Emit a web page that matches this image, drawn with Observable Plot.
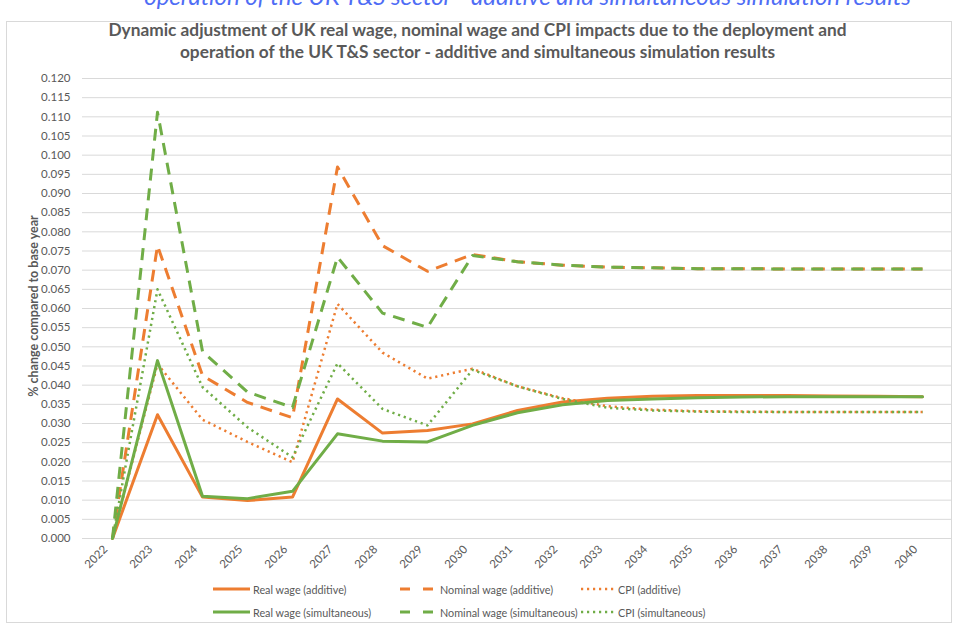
<!DOCTYPE html>
<html>
<head>
<meta charset="utf-8">
<script src="https://cdn.jsdelivr.net/npm/d3@7"></script>
<script src="https://cdn.jsdelivr.net/npm/@observablehq/plot@0.6"></script>
<style>
  body { margin: 0; background: #fff; }
  #wrap { position: relative; width: 955px; height: 626px; overflow: hidden; font-family: Lato, "Open Sans", sans-serif; color: #595959; }
  #cut { position: absolute; left: 0; top: 0; width: 955px; height: 10px; overflow: hidden; }
  #cut div { position: absolute; left: 0; width: 1055px; top: -19px; text-align: center; font-style: italic; font-size: 24px; line-height: 29px; color: #4f6df5; white-space: nowrap; }
  #frame { position: absolute; left: 6px; top: 21px; width: 946px; height: 602px; border: 1px solid #d9d9d9; box-sizing: border-box; }
  #title { position: absolute; left: 0; top: 19px; width: 955px; text-align: center; font-size: 17.3px; font-weight: 700; line-height: 22px; color: #595959; }
  #ylab { position: absolute; left: 33px; top: 306px; transform: translate(-50%, -50%) rotate(-90deg); font-size: 12.5px; font-weight: 700; white-space: nowrap; color: #595959; }
  #chart { position: absolute; left: 0; top: 60px; }
  .leg { position: absolute; display: flex; align-items: center; font-size: 10.8px; color: #595959; white-space: nowrap; }
  .leg svg { margin-right: 3px; }
</style>
</head>
<body>
<div id="wrap">
  <div id="cut"><div>operation of the UK T&amp;S sector - additive and simultaneous simulation results</div></div>
  <div id="frame"></div>
  <div id="title">Dynamic adjustment of UK real wage, nominal wage and CPI impacts due to the deployment and<br>operation of the UK T&amp;S sector - additive and simultaneous simulation results</div>
  <div id="ylab">% change compared to base year</div>
  <div id="chart"></div>
  <div id="legend"></div>
</div>
<script>
const years = ["2022","2023","2024","2025","2026","2027","2028","2029","2030","2031","2032","2033","2034","2035","2036","2037","2038","2039","2040"];
const yTicks = [0.000,0.005,0.010,0.015,0.020,0.025,0.030,0.035,0.040,0.045,0.050,0.055,0.060,0.065,0.070,0.075,0.080,0.085,0.090,0.095,0.100,0.105,0.110,0.115,0.120];

const realAdditive    = [0, 0.0323, 0.0108, 0.0099, 0.0108, 0.0364, 0.0275, 0.0282, 0.0299, 0.0334, 0.0356, 0.0366, 0.0371, 0.0373, 0.0373, 0.0373, 0.0372, 0.0371, 0.0370];
const nominalAdditive = [0, 0.0764, 0.0425, 0.0355, 0.0315, 0.0969, 0.0764, 0.0697, 0.0741, 0.0722, 0.0713, 0.0708, 0.0706, 0.0704, 0.0704, 0.0703, 0.0703, 0.0703, 0.0703];
const cpiAdditive     = [0, 0.0455, 0.0310, 0.0252, 0.0199, 0.0612, 0.0485, 0.0417, 0.0443, 0.0397, 0.0366, 0.0345, 0.0336, 0.0332, 0.0331, 0.0330, 0.0330, 0.0330, 0.0330];
const realSimult      = [0, 0.0464, 0.0110, 0.0104, 0.0123, 0.0273, 0.0254, 0.0252, 0.0295, 0.0328, 0.0349, 0.0360, 0.0364, 0.0367, 0.0369, 0.0370, 0.0370, 0.0370, 0.0370];
const nominalSimult   = [0, 0.1112, 0.0488, 0.0382, 0.0342, 0.0734, 0.0588, 0.0551, 0.0738, 0.0722, 0.0713, 0.0708, 0.0706, 0.0704, 0.0704, 0.0703, 0.0703, 0.0703, 0.0703];
const cpiSimult       = [0, 0.0650, 0.0395, 0.0290, 0.0212, 0.0457, 0.0338, 0.0295, 0.0440, 0.0397, 0.0364, 0.0341, 0.0334, 0.0331, 0.0330, 0.0330, 0.0330, 0.0330, 0.0330];

const ORANGE = "#ED7D31", GREEN = "#70AD47";
const STYLES = {
  solid:  {strokeWidth: 3, dash: null, cap: "round"},
  dashed: {strokeWidth: 3, dash: "12,8", cap: "butt"},
  dotted: {strokeWidth: 2.5, dash: "2.2,3.8", cap: "butt"}
};
const series = [
  {name: "Real wage (additive)", values: realAdditive, color: ORANGE, style: "solid"},
  {name: "Nominal wage (additive)", values: nominalAdditive, color: ORANGE, style: "dashed"},
  {name: "CPI (additive)", values: cpiAdditive, color: ORANGE, style: "dotted"},
  {name: "Real wage (simultaneous)", values: realSimult, color: GREEN, style: "solid"},
  {name: "Nominal wage (simultaneous)", values: nominalSimult, color: GREEN, style: "dashed"},
  {name: "CPI (simultaneous)", values: cpiSimult, color: GREEN, style: "dotted"}
];

const lineMarks = series.map(s => {
  const st = STYLES[s.style];
  const data = years.map((y, i) => ({year: y, value: s.values[i]}));
  const opts = {x: "year", y: "value", stroke: s.color, strokeWidth: st.strokeWidth, strokeLinejoin: "round", strokeLinecap: st.cap};
  if (st.dash) opts.strokeDasharray = st.dash;
  return Plot.line(data, opts);
});

const hasAxisMarks = typeof Plot.axisX === "function";
const axisMarks = hasAxisMarks ? [
  Plot.axisX({tickRotate: -45, tickSize: 0, tickPadding: 9, dx: -7, fontSize: 11.5, label: null}),
  Plot.axisY(yTicks, {tickFormat: d3.format(".3f"), tickSize: 0, tickPadding: 12, fontSize: 11.5, label: null})
] : [];

const chart = Plot.plot({
  width: 955,
  height: 520,
  marginLeft: 82,
  marginRight: 3,
  marginTop: 18,
  marginBottom: 42,
  style: {fontFamily: "Lato, 'Open Sans', sans-serif", fontSize: "11.5px", color: "#595959", background: "transparent"},
  x: {type: "point", domain: years, padding: 0.5, label: null, tickSize: 0, tickPadding: 9, tickRotate: -45},
  y: {domain: [0, 0.12], ticks: yTicks, tickFormat: d3.format(".3f"), tickSize: 0, tickPadding: 12, label: null},
  marks: [
    Plot.gridY(yTicks, {stroke: "#d9d9d9", strokeOpacity: 1, strokeWidth: 1}),
    ...lineMarks,
    ...axisMarks
  ]
});
document.getElementById("chart").appendChild(chart);

// Legend
const legendCols = [213, 400, 581];
const swatchW = [37, 37, 34];
const legendRows = [589, 612];
const legend = document.getElementById("legend");
series.forEach((s, i) => {
  const col = i % 3, row = Math.floor(i / 3);
  const st = STYLES[s.style];
  const div = document.createElement("div");
  div.className = "leg";
  div.style.left = legendCols[col] + "px";
  div.style.top = (legendRows[row] - 8) + "px";
  div.style.height = "16px";
  const w = swatchW[col];
  const sw = d3.create("svg").attr("width", w).attr("height", 16);
  const ln = sw.append("line").attr("x1", 0).attr("x2", w).attr("y1", 8).attr("y2", 8)
    .attr("stroke", s.color).attr("stroke-width", st.strokeWidth);
  if (s.style === "dashed") ln.attr("stroke-dasharray", "10,13");
  if (s.style === "dotted") ln.attr("stroke-dasharray", "2.2,3.8");
  div.appendChild(sw.node());
  const t = document.createElement("span");
  t.textContent = s.name;
  div.appendChild(t);
  legend.appendChild(div);
});
</script>
</body>
</html>
